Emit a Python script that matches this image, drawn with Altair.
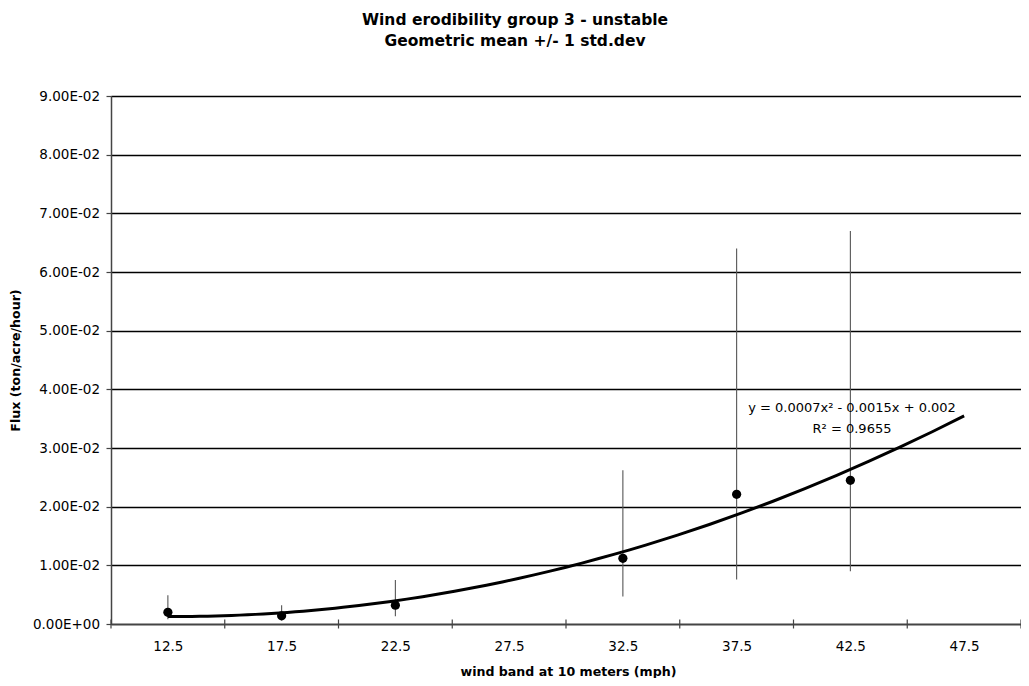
import altair as alt
import pandas as pd

# ---- data ----
wind_band = [12.5, 17.5, 22.5, 32.5, 37.5, 42.5]
flux_mean = [0.0020, 0.0014, 0.0032, 0.0112, 0.0221, 0.0245]
flux_upper = [0.0049, 0.0032, 0.0075, 0.0262, 0.0640, 0.0670]
flux_lower = [0.0008, 0.0006, 0.0013, 0.0047, 0.0076, 0.0090]

x_label_values = [12.5, 17.5, 22.5, 27.5, 32.5, 37.5, 42.5, 47.5]
x_tick_marks = [10, 15, 20, 25, 30, 35, 40, 45, 50]
y_tick_values = [0.0, 0.01, 0.02, 0.03, 0.04, 0.05, 0.06, 0.07, 0.08, 0.09]
equation_lines = ["y = 0.0007x\u00b2 - 0.0015x + 0.002", "R\u00b2 = 0.9655"]
title_lines = ["Wind erodibility group 3 - unstable", "Geometric mean +/- 1 std.dev"]

W, H = 910, 528
FONT = "DejaVu Sans"

df = pd.DataFrame({"x": wind_band, "mean": flux_mean, "lo": flux_lower, "hi": flux_upper})
ticks_df = pd.DataFrame({"t": x_tick_marks})
one_row = pd.DataFrame({"k": [0]})

xs = alt.Scale(domain=[10, 50], nice=False, zero=False)
ys = alt.Scale(domain=[0, 0.09], nice=False, zero=True)

x_axis = alt.Axis(
    values=x_label_values, format=".1f", ticks=False, grid=False,
    labelFont=FONT, labelFontSize=13.5, labelColor="black", labelPadding=15.5,
    labelBaseline="top", labelFlush=False, labelOverlap=False,
    domainColor="#444444", domainWidth=1.5,
    title="wind band at 10 meters (mph)", titleFont=FONT, titleFontSize=12.6,
    titleFontWeight="bold", titleColor="black", titleX=457, titleY=51.5,
    titleBaseline="alphabetic", titleAlign="center",
)
y_axis = alt.Axis(
    values=y_tick_values,
    labelExpr="replace(replace(upper(format(datum.value, '.2e')), 'E-', 'E-0'), 'E+', 'E+0')",
    grid=True, gridColor="black", gridWidth=1.5,
    tickSize=5, tickColor="#444444", tickWidth=1.2,
    labelFont=FONT, labelFontSize=13.5, labelColor="black", labelPadding=6.5,
    domainColor="#444444", domainWidth=1.5,
    title="Flux (ton/acre/hour)", titleFont=FONT, titleFontSize=12.6,
    titleFontWeight="bold", titleColor="black", titleAngle=270,
    titleX=-95.5, titleY=H / 2, titleAlign="center", titleBaseline="middle",
)

errbars = alt.Chart(df).mark_rule(color="#555555", strokeWidth=1.1).encode(
    x=alt.X("x:Q", scale=xs, axis=x_axis),
    y=alt.Y("lo:Q", scale=ys, axis=y_axis),
    y2="hi:Q",
)

tick_marks = alt.Chart(ticks_df).mark_rule(color="#444444", strokeWidth=1.2).encode(
    x="t:Q", y=alt.value(H - 4.5), y2=alt.value(H + 4.5)
)

trend = alt.Chart(df).transform_regression(
    "x", "mean", method="poly", order=2, extent=[12.5, 47.5]
).mark_line(color="black", strokeWidth=3).encode(x="x:Q", y="mean:Q")

points = alt.Chart(df).mark_circle(size=85, color="black", opacity=1).encode(
    x="x:Q", y="mean:Q"
)

equation = alt.Chart(one_row).mark_text(
    text=equation_lines, font=FONT, fontSize=13, color="black",
    align="center", baseline="top", lineHeight=21,
).encode(x=alt.value(741), y=alt.value(305.5))

chart = alt.layer(errbars, tick_marks, trend, points, equation).properties(
    width=W, height=H,
    autosize=alt.AutoSizeParams(type="none"),
    padding={"left": 103, "top": 88, "right": 0, "bottom": 54},
    title=alt.Title(
        text=title_lines, font=FONT, fontSize=15.5, fontWeight="bold",
        color="black", anchor="middle", frame="group", dx=-51, offset=40,
        lineHeight=21,
    ),
    background="white",
).configure_view(stroke="#666666", strokeWidth=1)

chart.save("out.html", embed_options={"renderer": "svg", "actions": False})
